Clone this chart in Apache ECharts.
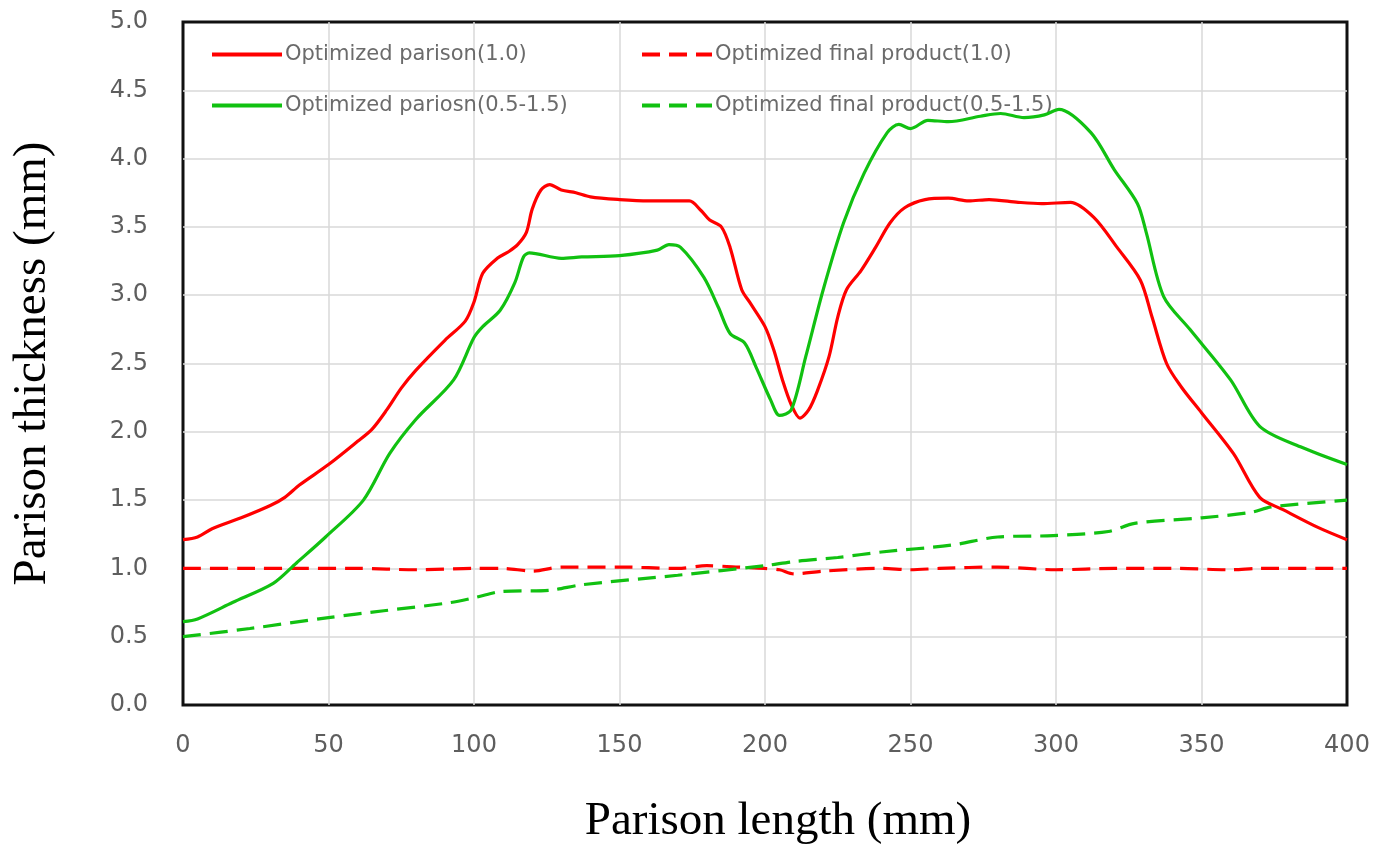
<!DOCTYPE html>
<html>
<head>
<meta charset="utf-8">
<script src="https://cdn.jsdelivr.net/npm/echarts@6/dist/echarts.min.js"></script>
<style>
  html, body { margin: 0; padding: 0; background: #fff; }
  #main { width: 1374px; height: 844px; }
</style>
</head>
<body>
<div id="main"></div>
<script>
// 数据
var xTicks = [0, 50, 100, 150, 200, 250, 300, 350, 400];
var yTicks = [0, 0.5, 1, 1.5, 2, 2.5, 3, 3.5, 4, 4.5, 5];

var parisonX1 = [0, 5, 10, 20, 30, 35, 40, 50, 60, 65, 70, 75, 80, 90, 97, 100, 103, 108, 112, 115, 118, 120, 123, 126, 130, 135, 140, 150, 160, 174, 178, 181, 185, 188, 192, 195, 200, 203, 206, 209, 212, 215, 218, 222, 225, 228, 233, 238, 243, 248, 255, 263, 270, 277, 287, 295, 305, 313, 321, 329, 333, 338, 343, 350, 361, 370, 378, 390, 400];
var parisonY1 = [1.21, 1.23, 1.29, 1.37, 1.46, 1.52, 1.61, 1.76, 1.93, 2.02, 2.16, 2.32, 2.45, 2.67, 2.81, 2.95, 3.16, 3.27, 3.32, 3.37, 3.46, 3.63, 3.77, 3.81, 3.77, 3.75, 3.72, 3.70, 3.69, 3.69, 3.62, 3.55, 3.50, 3.35, 3.04, 2.94, 2.77, 2.60, 2.38, 2.20, 2.10, 2.16, 2.30, 2.55, 2.84, 3.04, 3.18, 3.35, 3.53, 3.64, 3.70, 3.71, 3.69, 3.70, 3.68, 3.67, 3.68, 3.57, 3.35, 3.11, 2.84, 2.50, 2.33, 2.14, 1.84, 1.52, 1.43, 1.30, 1.21];

var parisonX2 = [0, 5, 17, 31, 39, 49, 62, 71, 80, 93, 100, 103, 109, 114, 117, 119, 130, 137, 150, 163, 167, 171, 179, 184, 188, 193, 197, 202, 205, 209, 214, 220, 227, 234, 242, 246, 250, 256, 263, 274, 281, 289, 296, 301, 312, 320, 328, 331, 337, 346, 360, 370, 384, 400];
var parisonY2 = [0.61, 0.63, 0.75, 0.89, 1.04, 1.23, 1.50, 1.84, 2.09, 2.38, 2.69, 2.77, 2.89, 3.09, 3.28, 3.31, 3.27, 3.28, 3.29, 3.33, 3.37, 3.35, 3.13, 2.91, 2.72, 2.65, 2.47, 2.23, 2.12, 2.16, 2.55, 3.04, 3.53, 3.89, 4.19, 4.25, 4.22, 4.28, 4.27, 4.31, 4.33, 4.30, 4.32, 4.36, 4.19, 3.92, 3.67, 3.46, 2.99, 2.75, 2.38, 2.04, 1.89, 1.76];

var productX1 = [0, 20, 40, 60, 80, 100, 110, 120, 130, 150, 170, 180, 190, 200, 205, 210, 220, 240, 250, 260, 280, 300, 320, 340, 360, 370, 400];
var productY1 = [1.0, 1.0, 1.0, 1.0, 0.99, 1.0, 1.0, 0.98, 1.01, 1.01, 1.0, 1.02, 1.01, 1.0, 0.99, 0.96, 0.98, 1.0, 0.99, 1.0, 1.01, 0.99, 1.0, 1.0, 0.99, 1.0, 1.0];

var productX2 = [0, 23, 50, 69, 92, 101, 109, 126, 137, 170, 200, 210, 225, 240, 264, 280, 299, 318, 327, 350, 367, 374, 400];
var productY2 = [0.50, 0.56, 0.64, 0.69, 0.75, 0.79, 0.83, 0.84, 0.88, 0.95, 1.02, 1.05, 1.08, 1.12, 1.17, 1.23, 1.24, 1.27, 1.33, 1.37, 1.41, 1.45, 1.50];

var names = ['Optimized parison(1.0)', 'Optimized final product(1.0)', 'Optimized pariosn(0.5-1.5)', 'Optimized final product(0.5-1.5)'];

function pairs(xs, ys) {
  return xs.map(function (x, i) { return [x, ys[i]]; });
}

var RED = '#ff0000';
var GREEN = '#11c111';

var myChart = echarts.init(document.getElementById('main'));

function legendAt(name, left, top) {
  return {
    data: [name], left: left, top: top, orient: 'horizontal',
    itemWidth: 70, itemHeight: 14, itemGap: 6,
    itemStyle: { opacity: 0 },
    lineStyle: { width: 4 },
    textStyle: { fontFamily: 'DejaVu Sans', fontSize: 21, color: '#6b6b6b', padding: [0, 0, 0, -2] }
  };
}

var option = {
  animation: false,
  backgroundColor: '#fff',
  grid: {
    left: 183, right: 27, top: 22, bottom: 139,
    outerBoundsMode: 'none',
    containLabel: false,
    show: true, borderColor: '#111', borderWidth: 3, backgroundColor: 'transparent'
  },
  legend: [
    legendAt(names[0], 205, 39),
    legendAt(names[1], 635, 39),
    legendAt(names[2], 205, 90),
    legendAt(names[3], 635, 90)
  ],
  xAxis: {
    type: 'value',
    min: 0, max: 400, interval: 50,
    name: 'Parison length (mm)',
    nameLocation: 'middle',
    nameGap: 93,
    nameTextStyle: { fontFamily: 'Liberation Serif', fontSize: 47, color: '#000', padding: [0, 0, 0, 26] },
    axisLine: { show: false },
    axisTick: { show: false },
    axisLabel: { margin: 29, fontFamily: 'DejaVu Sans', fontSize: 24, color: '#5e5e5e',
      formatter: function (v) { return xTicks.indexOf(v) >= 0 ? String(v) : ''; } },
    splitLine: { show: true, showMinLine: false, showMaxLine: false, lineStyle: { color: '#d9d9d9', width: 1.5 } }
  },
  yAxis: {
    type: 'value',
    min: 0, max: 5, interval: 0.5,
    name: 'Parison thickness (mm)',
    nameLocation: 'middle',
    nameGap: 127,
    nameTextStyle: { fontFamily: 'Liberation Serif', fontSize: 47, color: '#000' },
    axisLine: { show: false },
    axisTick: { show: false },
    axisLabel: { margin: 35, fontFamily: 'DejaVu Sans', fontSize: 24, color: '#5e5e5e',
      formatter: function (v) { return v.toFixed(1); } },
    splitLine: { show: true, showMinLine: false, showMaxLine: false, lineStyle: { color: '#d9d9d9', width: 1.5 } }
  },
  series: [
    {
      name: names[0], type: 'line', smooth: 0.3, showSymbol: false, symbol: 'none',
      data: pairs(parisonX1, parisonY1),
      lineStyle: { color: RED, width: 3.2 }, itemStyle: { color: RED }, z: 4
    },
    {
      name: names[1], type: 'line', smooth: 0.3, showSymbol: false, symbol: 'none',
      data: pairs(productX1, productY1),
      lineStyle: { color: RED, width: 3.2, type: [18, 9] }, itemStyle: { color: RED }, z: 3
    },
    {
      name: names[2], type: 'line', smooth: 0.3, showSymbol: false, symbol: 'none',
      data: pairs(parisonX2, parisonY2),
      lineStyle: { color: GREEN, width: 3.2 }, itemStyle: { color: GREEN }, z: 4
    },
    {
      name: names[3], type: 'line', smooth: 0.3, showSymbol: false, symbol: 'none',
      data: pairs(productX2, productY2),
      lineStyle: { color: GREEN, width: 3.2, type: [18, 9] }, itemStyle: { color: GREEN }, z: 3
    }
  ]
};

myChart.setOption(option);
</script>
</body>
</html>
